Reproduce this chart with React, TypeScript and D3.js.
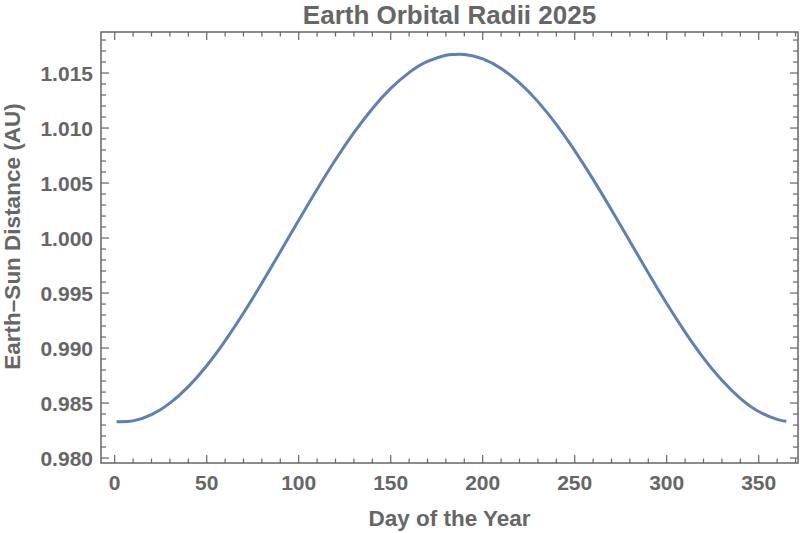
import { useEffect, useRef } from 'react';
import * as d3 from 'd3';

// day of year and Earth-Sun distance (AU)
const days = [1, 10, 20, 30, 40, 50, 60, 70, 80, 90, 100, 110, 120, 130, 140, 150, 160, 170, 180, 184, 190,
  200, 210, 220, 230, 240, 250, 260, 270, 280, 290, 300, 310, 320, 330, 340, 350, 360, 365];
const distances = [0.98331, 0.98338, 0.98394, 0.98499, 0.98649, 0.98839, 0.99065, 0.99318, 0.99591, 0.99875,
  1.00162, 1.00444, 1.00712, 1.00958, 1.01176, 1.0136, 1.01504, 1.01605, 1.01661, 1.01669, 1.01668,
  1.01629, 1.01542, 1.01411, 1.0124, 1.01033, 1.00795, 1.00533, 1.00255, 0.99969, 0.99683, 0.99405,
  0.99145, 0.98909, 0.98707, 0.98543, 0.98423, 0.98351, 0.98334];

const xTicks = [0, 50, 100, 150, 200, 250, 300, 350];
const yTicks = [0.98, 0.985, 0.99, 0.995, 1.0, 1.005, 1.01, 1.015];

const W = 800;
const H = 533;
const margin = { left: 101, right: 2, top: 32, bottom: 70 };
const gray = '#666666';
const font = '"Liberation Sans", Arial, sans-serif';

export default function App() {
  const svgRef = useRef<SVGSVGElement>(null);

  useEffect(() => {
    if (!svgRef.current) return;
    const svg = d3.select(svgRef.current);
    svg.selectAll('*').remove();

    const x0 = margin.left, x1 = W - margin.right;
    const y0 = H - margin.bottom, y1 = margin.top;

    const x = d3.scaleLinear().domain([-7.45, 371.35]).range([x0, x1]);
    const y = d3.scaleLinear().domain([0.97955, 1.01873]).range([y0, y1]);

    const minorX = d3.range(0, 371, 10).filter((d) => d % 50 !== 0);
    const minorY = d3.range(980, 1019, 1).map((d) => d / 1000).filter((_, i) => i % 5 !== 0);

    const g = svg.append('g');

    // curve
    const pts = days.map((d, i) => [d, distances[i]] as [number, number]);
    const line = d3.line<[number, number]>()
      .x((d) => x(d[0]))
      .y((d) => y(d[1]))
      .curve(d3.curveNatural);

    g.append('path')
      .datum(pts)
      .attr('d', line)
      .attr('fill', 'none')
      .attr('stroke', '#5E81B5')
      .attr('stroke-width', 3);

    // frame
    g.append('rect')
      .attr('x', x0).attr('y', y1)
      .attr('width', x1 - x0).attr('height', y0 - y1)
      .attr('fill', 'none')
      .attr('stroke', gray)
      .attr('stroke-width', 1.5);

    const tick = (
      vals: number[], len: number, horiz: boolean
    ) => {
      vals.forEach((v) => {
        if (horiz) {
          const px = x(v);
          g.append('line').attr('x1', px).attr('x2', px).attr('y1', y0).attr('y2', y0 - len)
            .attr('stroke', gray).attr('stroke-width', 1.2);
          g.append('line').attr('x1', px).attr('x2', px).attr('y1', y1).attr('y2', y1 + len)
            .attr('stroke', gray).attr('stroke-width', 1.2);
        } else {
          const py = y(v);
          g.append('line').attr('x1', x0).attr('x2', x0 + len).attr('y1', py).attr('y2', py)
            .attr('stroke', gray).attr('stroke-width', 1.2);
          g.append('line').attr('x1', x1).attr('x2', x1 - len).attr('y1', py).attr('y2', py)
            .attr('stroke', gray).attr('stroke-width', 1.2);
        }
      });
    };
    tick(xTicks, 8, true);
    tick(minorX, 4.5, true);
    tick(yTicks, 8, false);
    tick(minorY, 5, false);

    // tick labels
    g.selectAll('text.xl')
      .data(xTicks)
      .join('text')
      .attr('x', (d) => x(d))
      .attr('y', 490)
      .attr('text-anchor', 'middle')
      .text((d) => d3.format('d')(d));

    g.selectAll('text.yl')
      .data(yTicks)
      .join('text')
      .attr('x', 93)
      .attr('y', (d) => y(d) + 7.5)
      .attr('text-anchor', 'end')
      .text((d) => d3.format('.3f')(d));

    g.selectAll('text')
      .attr('font-family', font)
      .attr('font-weight', 'bold')
      .attr('font-size', 21)
      .attr('fill', gray);

    // title and axis labels
    svg.append('text')
      .attr('x', (x0 + x1) / 2)
      .attr('y', 23.5)
      .attr('text-anchor', 'middle')
      .attr('font-family', font)
      .attr('font-weight', 'bold')
      .attr('font-size', 26)
      .attr('fill', gray)
      .text('Earth Orbital Radii 2025');

    svg.append('text')
      .attr('x', (x0 + x1) / 2)
      .attr('y', 526)
      .attr('text-anchor', 'middle')
      .attr('font-family', font)
      .attr('font-weight', 'bold')
      .attr('font-size', 22.5)
      .attr('fill', gray)
      .text('Day of the Year');

    svg.append('text')
      .attr('transform', `translate(20,${(y0 + y1) / 2 - 11}) rotate(-90)`)
      .attr('text-anchor', 'middle')
      .attr('font-family', font)
      .attr('font-weight', 'bold')
      .attr('font-size', 22.5)
      .attr('fill', gray)
      .text('Earth–Sun Distance (AU)');
  }, []);

  return (
    <svg
      ref={svgRef}
      width={W}
      height={H}
      style={{ position: 'absolute', left: 0, top: 0, background: '#fff' }}
    />
  );
}
